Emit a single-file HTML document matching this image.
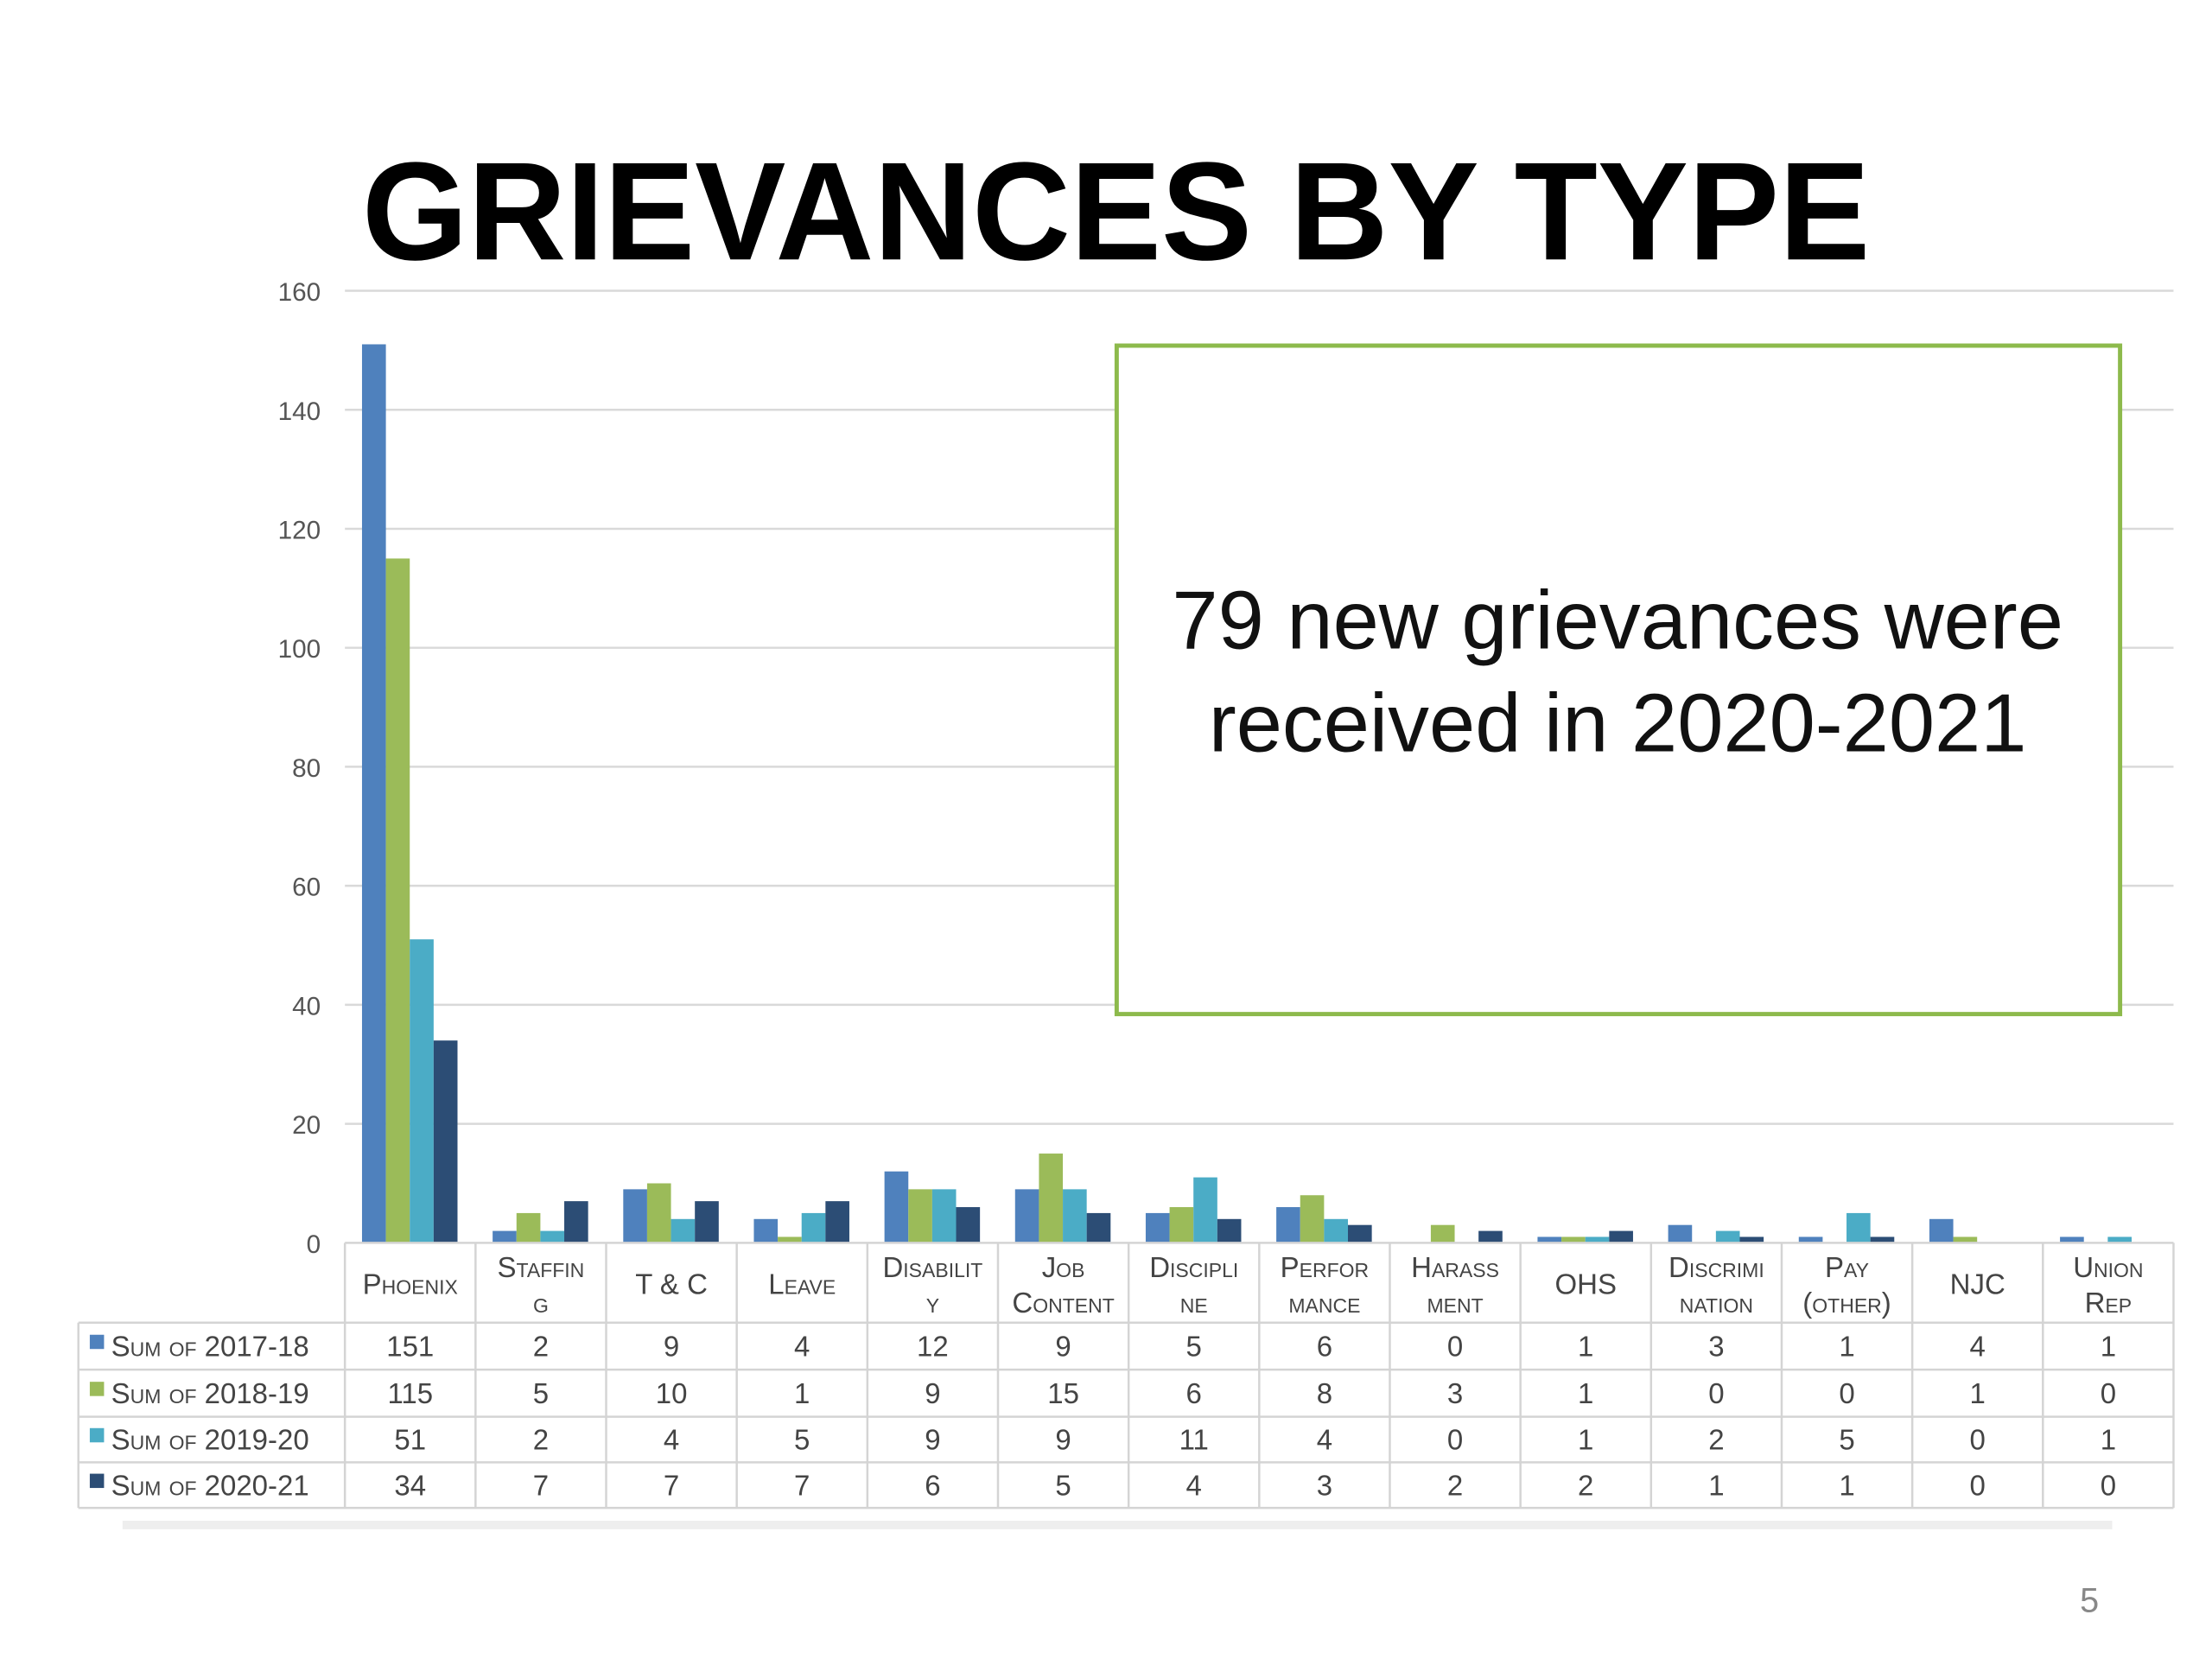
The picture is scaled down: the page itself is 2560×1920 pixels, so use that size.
<!DOCTYPE html>
<html><head><meta charset="utf-8"><style>
html,body{margin:0;padding:0;background:#fff;}
svg{display:block;font-family:"Liberation Sans",sans-serif;}
.sc{font-variant:small-caps;}
</style></head><body>
<svg id="chart" width="2560" height="1920" viewBox="0 0 1552 1164" preserveAspectRatio="none" xmlns="http://www.w3.org/2000/svg">
<text x="254" y="182" font-size="98" font-weight="bold" fill="#000" textLength="1058" lengthAdjust="spacingAndGlyphs">GRIEVANCES BY TYPE</text>
<g id="grid"></g>
<g id="bars"></g>
<g id="table"></g>
<rect x="783.5" y="242.5" width="704" height="469" fill="#fff" stroke="#8DBA4C" stroke-width="3"/>
<text x="1135" y="455" font-size="58" text-anchor="middle" fill="#111">79 new grievances were</text>
<text x="1135" y="527" font-size="58" text-anchor="middle" fill="#111">received in 2020-2021</text>
<rect x="86" y="1067" width="1396" height="6" fill="#eeeeee"/>
<text x="1466" y="1131" font-size="24" text-anchor="middle" fill="#888">5</text>
</svg>
<script>
const categories = [["Phoenix"],["Staffin","g"],["T & C"],["Leave"],["Disabilit","y"],["Job","Content"],["Discipli","ne"],["Perfor","mance"],["Harass","ment"],["OHS"],["Discrimi","nation"],["Pay","(other)"],["NJC"],["Union","Rep"]];
const seriesNames = ["Sum of 2017-18","Sum of 2018-19","Sum of 2019-20","Sum of 2020-21"];
const s2017 = [151,2,9,4,12,9,5,6,0,1,3,1,4,1];
const s2018 = [115,5,10,1,9,15,6,8,3,1,0,0,1,0];
const s2019 = [51,2,4,5,9,9,11,4,0,1,2,5,0,1];
const s2020 = [34,7,7,7,6,5,4,3,2,2,1,1,0,0];
const yTicks = [0,20,40,60,80,100,120,140,160];
const series = [s2017,s2018,s2019,s2020];
const colors = ["#4F81BD","#9BBB59","#4BACC6","#2C4D75"];
const NS="http://www.w3.org/2000/svg";
const X0=242,X1=1525,Y0=872,Y1=204,YMAX=160;
const cw=(X1-X0)/categories.length;
const yS=v=>Y0-(v/YMAX)*(Y0-Y1);
const xS=i=>X0+i*cw;
function mk(tag,attrs,parent){const e=document.createElementNS(NS,tag);for(const k in attrs)e.setAttribute(k,attrs[k]);parent.appendChild(e);return e;}
const grid=document.getElementById('grid'),bars=document.getElementById('bars'),table=document.getElementById('table');
yTicks.forEach(t=>{
  if(t>0){const l=mk('line',{x1:X0,x2:X1,y1:yS(t),y2:yS(t),stroke:'#d9d9d9','stroke-width':1.5},grid);
  
  }
  const tx=mk('text',{x:225,y:yS(t)+7,'font-size':18,'text-anchor':'end',fill:'#555'},grid);
  tx.textContent=t;
  
  
});
const bw=16.75,off=12;
series.forEach((s,si)=>{s.forEach((v,i)=>{
  if(v<=0)return;
  const r=mk('rect',{x:xS(i)+off+si*bw,y:yS(v),width:bw,height:Y0-yS(v),fill:colors[si]},bars);
  
  
});});
// table
const rows=[872,928,961,994,1026,1058];
const line=(x1,y1,x2,y2)=>{const l=mk('line',{x1,y1,x2,y2,stroke:'#d4d4d4','stroke-width':1.5},table);
  
  };
line(X0,rows[0],X1,rows[0]);
for(let r=1;r<rows.length;r++)line(55,rows[r],X1,rows[r]);
line(55,rows[1],55,rows[5]);
for(let i=0;i<=categories.length;i++)line(xS(i),rows[0],xS(i),rows[5]);
categories.forEach((c,i)=>{
  const cx=xS(i)+cw/2;
  const ys=c.length===1?[908]:[896,921];
  c.forEach((ln,k)=>{const t=mk('text',{x:cx,y:ys[k],'font-size':20,'text-anchor':'middle',fill:'#444',class:'sc'},table);
    t.textContent=ln;
    
    });
});
series.forEach((s,si)=>{
  const y=(rows[si+1]+rows[si+2])/2+7;
  const sw=mk('rect',{x:63,y:y-15,width:10,height:10,fill:colors[si]},table);
  
  
  const lt=mk('text',{x:78,y:y,'font-size':20,fill:'#444',class:'sc'},table);
  lt.textContent=seriesNames[si];
  
  
  s.forEach((v,i)=>{const t=mk('text',{x:xS(i)+cw/2,y:y,'font-size':20,'text-anchor':'middle',fill:'#444'},table);
    t.textContent=v;
    
    });
});
</script>
</body></html>
